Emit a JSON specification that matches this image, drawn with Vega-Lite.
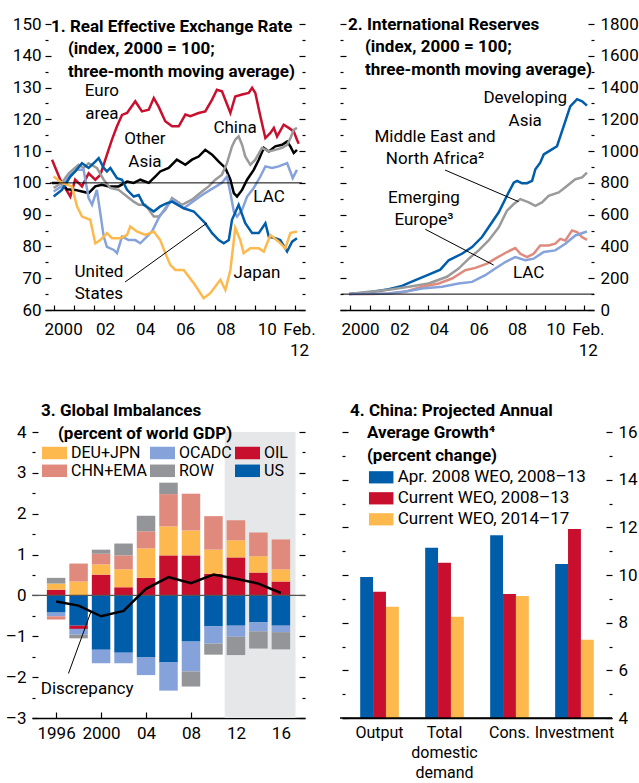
{
 "$schema": "https://vega.github.io/schema/vega-lite/v6.json",
 "padding": {"left": 5, "top": 15, "right": 5, "bottom": 5},
 "columns": 2,
 "bounds": "flush",
 "spacing": {"row": 122, "column": 35},
 "resolve": {"scale": {"color": "independent"}, "legend": {"color": "independent"}},
 "config": {
  "view": {"stroke": null},
  "font": "Roboto",
  "axis": {"labelFont": "Roboto", "labelFontSize": 17, "labelColor": "#000", "tickColor": "#000", "tickWidth": 1.2, "domainColor": "#000", "domainWidth": 1.3, "grid": false, "labelFlush": false, "labelOverlap": false, "zindex": 1},
  "title": {"font": "Roboto", "fontSize": 17, "fontWeight": "bold", "color": "#000", "anchor": "start", "frame": "group", "align": "left", "lineHeight": 22.5},
  "legend": {"labelFont": "Roboto", "labelFontSize": 17, "labelColor": "#000", "labelLimit": 0, "symbolStrokeWidth": 0, "symbolType": "M-1,-0.5H1V0.5H-1Z", "symbolSize": 625, "symbolOpacity": 1, "padding": 0, "labelOffset": 4},
  "text": {"font": "Roboto", "fontSize": 17, "color": "#000"}
 },
 "datasets": {
  "reer": [
   {"s":"Euro area","t":1999.92,"v":107.3},{"s":"Euro area","t":2000.33,"v":101},{"s":"Euro area","t":2000.83,"v":95.7},{"s":"Euro area","t":2001.07,"v":101},{"s":"Euro area","t":2001.41,"v":98.9},{"s":"Euro area","t":2001.74,"v":103},{"s":"Euro area","t":2002.07,"v":101},{"s":"Euro area","t":2002.32,"v":102.5},{"s":"Euro area","t":2002.57,"v":107.3},{"s":"Euro area","t":2002.9,"v":113.6},{"s":"Euro area","t":2003.15,"v":117.8},{"s":"Euro area","t":2003.4,"v":121.4},{"s":"Euro area","t":2003.65,"v":122},{"s":"Euro area","t":2004.06,"v":125.7},{"s":"Euro area","t":2004.39,"v":122.5},{"s":"Euro area","t":2004.73,"v":123},{"s":"Euro area","t":2004.98,"v":126.7},{"s":"Euro area","t":2005.22,"v":124},{"s":"Euro area","t":2005.55,"v":119.4},{"s":"Euro area","t":2005.89,"v":117.8},{"s":"Euro area","t":2006.22,"v":117.8},{"s":"Euro area","t":2006.55,"v":121.5},{"s":"Euro area","t":2006.8,"v":121},{"s":"Euro area","t":2007.21,"v":122},{"s":"Euro area","t":2007.54,"v":122.5},{"s":"Euro area","t":2007.88,"v":126.2},{"s":"Euro area","t":2008.12,"v":129.3},{"s":"Euro area","t":2008.37,"v":128.8},{"s":"Euro area","t":2008.79,"v":122},{"s":"Euro area","t":2009.03,"v":127.2},{"s":"Euro area","t":2009.37,"v":127.8},{"s":"Euro area","t":2009.7,"v":128.3},{"s":"Euro area","t":2009.87,"v":129.9},{"s":"Euro area","t":2010.03,"v":128.3},{"s":"Euro area","t":2010.28,"v":121},{"s":"Euro area","t":2010.53,"v":114.1},{"s":"Euro area","t":2010.78,"v":115.7},{"s":"Euro area","t":2010.95,"v":117.3},{"s":"Euro area","t":2011.11,"v":114.6},{"s":"Euro area","t":2011.44,"v":118.3},{"s":"Euro area","t":2011.69,"v":117.3},{"s":"Euro area","t":2011.94,"v":116.2},{"s":"Euro area","t":2012.1,"v":113.6},{"s":"Euro area","t":2012.19,"v":112.3},
   {"s":"Other Asia","t":1999.92,"v":100},{"s":"Other Asia","t":2000.41,"v":100},{"s":"Other Asia","t":2000.66,"v":98},{"s":"Other Asia","t":2001.07,"v":97.8},{"s":"Other Asia","t":2001.41,"v":97.3},{"s":"Other Asia","t":2001.74,"v":96.8},{"s":"Other Asia","t":2002.07,"v":98.9},{"s":"Other Asia","t":2002.4,"v":99.4},{"s":"Other Asia","t":2002.74,"v":98.9},{"s":"Other Asia","t":2003.23,"v":98.9},{"s":"Other Asia","t":2003.65,"v":100.4},{"s":"Other Asia","t":2003.98,"v":100},{"s":"Other Asia","t":2004.31,"v":101},{"s":"Other Asia","t":2004.73,"v":100},{"s":"Other Asia","t":2005.05,"v":102},{"s":"Other Asia","t":2005.3,"v":103.6},{"s":"Other Asia","t":2005.72,"v":104.7},{"s":"Other Asia","t":2006.13,"v":107.3},{"s":"Other Asia","t":2006.55,"v":105.7},{"s":"Other Asia","t":2006.88,"v":107.3},{"s":"Other Asia","t":2007.21,"v":108.3},{"s":"Other Asia","t":2007.54,"v":110.4},{"s":"Other Asia","t":2007.88,"v":108.9},{"s":"Other Asia","t":2008.21,"v":106.7},{"s":"Other Asia","t":2008.54,"v":104.7},{"s":"Other Asia","t":2008.79,"v":101},{"s":"Other Asia","t":2008.96,"v":96.8},{"s":"Other Asia","t":2009.12,"v":95.7},{"s":"Other Asia","t":2009.37,"v":97.8},{"s":"Other Asia","t":2009.62,"v":101},{"s":"Other Asia","t":2009.95,"v":104.1},{"s":"Other Asia","t":2010.2,"v":107.3},{"s":"Other Asia","t":2010.45,"v":111},{"s":"Other Asia","t":2010.7,"v":109.9},{"s":"Other Asia","t":2011.02,"v":111.5},{"s":"Other Asia","t":2011.36,"v":112},{"s":"Other Asia","t":2011.61,"v":113},{"s":"Other Asia","t":2011.77,"v":111.5},{"s":"Other Asia","t":2011.94,"v":109.4},{"s":"Other Asia","t":2012.1,"v":110.4},
   {"s":"China","t":2000.0,"v":98.4},{"s":"China","t":2000.4,"v":100},{"s":"China","t":2000.75,"v":103},{"s":"China","t":2001.24,"v":105.7},{"s":"China","t":2001.49,"v":104.7},{"s":"China","t":2001.74,"v":106.2},{"s":"China","t":2002.15,"v":104.7},{"s":"China","t":2002.49,"v":101},{"s":"China","t":2002.82,"v":98.4},{"s":"China","t":2003.23,"v":97.8},{"s":"China","t":2003.65,"v":95.7},{"s":"China","t":2003.98,"v":94.1},{"s":"China","t":2004.23,"v":93.1},{"s":"China","t":2004.56,"v":93.1},{"s":"China","t":2004.98,"v":89.4},{"s":"China","t":2005.22,"v":89.4},{"s":"China","t":2005.55,"v":91.5},{"s":"China","t":2005.89,"v":95.2},{"s":"China","t":2006.38,"v":93.1},{"s":"China","t":2006.88,"v":94.7},{"s":"China","t":2007.38,"v":97.3},{"s":"China","t":2007.71,"v":98.9},{"s":"China","t":2008.04,"v":101},{"s":"China","t":2008.37,"v":102.6},{"s":"China","t":2008.62,"v":106.2},{"s":"China","t":2008.87,"v":111.5},{"s":"China","t":2009.03,"v":113.6},{"s":"China","t":2009.2,"v":114.6},{"s":"China","t":2009.37,"v":112},{"s":"China","t":2009.53,"v":108.3},{"s":"China","t":2009.78,"v":105.7},{"s":"China","t":2010.03,"v":107.3},{"s":"China","t":2010.36,"v":111},{"s":"China","t":2010.7,"v":109.9},{"s":"China","t":2011.02,"v":110.4},{"s":"China","t":2011.36,"v":111},{"s":"China","t":2011.61,"v":112},{"s":"China","t":2011.77,"v":114},{"s":"China","t":2011.94,"v":116.7},{"s":"China","t":2012.1,"v":117.3},
   {"s":"LAC","t":2000.0,"v":97.3},{"s":"LAC","t":2000.41,"v":99},{"s":"LAC","t":2000.83,"v":102.6},{"s":"LAC","t":2001.16,"v":104.1},{"s":"LAC","t":2001.49,"v":104.1},{"s":"LAC","t":2001.74,"v":95.2},{"s":"LAC","t":2001.91,"v":93.1},{"s":"LAC","t":2002.15,"v":97.8},{"s":"LAC","t":2002.32,"v":90.5},{"s":"LAC","t":2002.49,"v":83.1},{"s":"LAC","t":2002.65,"v":79.9},{"s":"LAC","t":2002.99,"v":78.9},{"s":"LAC","t":2003.15,"v":77.9},{"s":"LAC","t":2003.4,"v":83.1},{"s":"LAC","t":2003.73,"v":82},{"s":"LAC","t":2004.06,"v":82},{"s":"LAC","t":2004.31,"v":81},{"s":"LAC","t":2004.89,"v":84.7},{"s":"LAC","t":2005.22,"v":88.9},{"s":"LAC","t":2005.55,"v":92},{"s":"LAC","t":2005.89,"v":94.7},{"s":"LAC","t":2006.47,"v":92},{"s":"LAC","t":2007.38,"v":96.2},{"s":"LAC","t":2007.79,"v":97.8},{"s":"LAC","t":2008.37,"v":100},{"s":"LAC","t":2008.62,"v":102},{"s":"LAC","t":2008.79,"v":96.8},{"s":"LAC","t":2008.96,"v":91},{"s":"LAC","t":2009.12,"v":89.4},{"s":"LAC","t":2009.37,"v":91.5},{"s":"LAC","t":2009.62,"v":95.7},{"s":"LAC","t":2009.95,"v":98.4},{"s":"LAC","t":2010.28,"v":102},{"s":"LAC","t":2010.53,"v":105.2},{"s":"LAC","t":2010.86,"v":104.7},{"s":"LAC","t":2011.19,"v":105.2},{"s":"LAC","t":2011.61,"v":106.2},{"s":"LAC","t":2011.77,"v":103.6},{"s":"LAC","t":2011.89,"v":101.5},{"s":"LAC","t":2012.1,"v":104.1},
   {"s":"United States","t":2000.0,"v":95.7},{"s":"United States","t":2000.41,"v":97.8},{"s":"United States","t":2000.83,"v":102},{"s":"United States","t":2001.07,"v":103.6},{"s":"United States","t":2001.41,"v":106.2},{"s":"United States","t":2001.74,"v":104.7},{"s":"United States","t":2002.07,"v":106.7},{"s":"United States","t":2002.24,"v":107.8},{"s":"United States","t":2002.49,"v":104.7},{"s":"United States","t":2002.65,"v":103.6},{"s":"United States","t":2002.82,"v":104.7},{"s":"United States","t":2003.15,"v":101.5},{"s":"United States","t":2003.4,"v":101},{"s":"United States","t":2003.65,"v":97.8},{"s":"United States","t":2003.98,"v":95.7},{"s":"United States","t":2004.23,"v":96.2},{"s":"United States","t":2004.48,"v":93.1},{"s":"United States","t":2004.98,"v":91},{"s":"United States","t":2005.3,"v":92.6},{"s":"United States","t":2005.64,"v":93.6},{"s":"United States","t":2005.89,"v":94.1},{"s":"United States","t":2006.47,"v":92},{"s":"United States","t":2006.97,"v":91},{"s":"United States","t":2007.54,"v":87.3},{"s":"United States","t":2007.88,"v":84.2},{"s":"United States","t":2008.21,"v":82},{"s":"United States","t":2008.46,"v":81},{"s":"United States","t":2008.71,"v":82},{"s":"United States","t":2008.87,"v":88.4},{"s":"United States","t":2009.2,"v":93.1},{"s":"United States","t":2009.53,"v":87.3},{"s":"United States","t":2009.87,"v":84.2},{"s":"United States","t":2010.2,"v":84.2},{"s":"United States","t":2010.53,"v":87.3},{"s":"United States","t":2010.7,"v":83.1},{"s":"United States","t":2011.02,"v":82.6},{"s":"United States","t":2011.27,"v":82},{"s":"United States","t":2011.61,"v":78.4},{"s":"United States","t":2011.86,"v":81.5},{"s":"United States","t":2012.1,"v":82.6},
   {"s":"Japan","t":2000.0,"v":102},{"s":"Japan","t":2000.41,"v":100},{"s":"Japan","t":2000.91,"v":98.9},{"s":"Japan","t":2001.16,"v":92.6},{"s":"Japan","t":2001.41,"v":89.4},{"s":"Japan","t":2001.82,"v":88.4},{"s":"Japan","t":2002.07,"v":81},{"s":"Japan","t":2002.32,"v":82},{"s":"Japan","t":2002.65,"v":84.2},{"s":"Japan","t":2002.9,"v":82.6},{"s":"Japan","t":2003.31,"v":82.6},{"s":"Japan","t":2003.65,"v":83.6},{"s":"Japan","t":2003.81,"v":86.3},{"s":"Japan","t":2004.14,"v":84.7},{"s":"Japan","t":2004.56,"v":83.6},{"s":"Japan","t":2004.98,"v":84.7},{"s":"Japan","t":2005.3,"v":82},{"s":"Japan","t":2005.55,"v":77.9},{"s":"Japan","t":2005.8,"v":74.2},{"s":"Japan","t":2006.05,"v":72.6},{"s":"Japan","t":2006.47,"v":72.6},{"s":"Japan","t":2006.97,"v":68.4},{"s":"Japan","t":2007.46,"v":63.7},{"s":"Japan","t":2007.79,"v":65.3},{"s":"Japan","t":2008.29,"v":69.5},{"s":"Japan","t":2008.54,"v":66.3},{"s":"Japan","t":2008.79,"v":72.6},{"s":"Japan","t":2009.03,"v":85.8},{"s":"Japan","t":2009.28,"v":82},{"s":"Japan","t":2009.45,"v":77.9},{"s":"Japan","t":2009.78,"v":79.4},{"s":"Japan","t":2010.2,"v":79.4},{"s":"Japan","t":2010.45,"v":78.4},{"s":"Japan","t":2010.78,"v":83.6},{"s":"Japan","t":2011.19,"v":81.5},{"s":"Japan","t":2011.52,"v":79.4},{"s":"Japan","t":2011.77,"v":84.2},{"s":"Japan","t":2012.1,"v":84.7}
  ],
  "ann1": [
   {"label":"Euro\narea","t":2002.4,"v":128.9},{"label":"Other\nAsia","t":2004.54,"v":113.8},{"label":"China","t":2009.02,"v":117.3},{"label":"LAC","t":2010.71,"v":95.6},{"label":"United\nStates","t":2002.25,"v":72.1},{"label":"Japan","t":2010.11,"v":71.6}
  ],
  "lead1": [{"t":2003.55,"v":68.8,"t2":2007.63,"v2":87.4}],
  "res": [
   {"s":"Developing Asia","t":1999.95,"v":100},{"s":"Developing Asia","t":2000.94,"v":110},{"s":"Developing Asia","t":2001.97,"v":131},{"s":"Developing Asia","t":2002.65,"v":152},{"s":"Developing Asia","t":2003.34,"v":188},{"s":"Developing Asia","t":2004.02,"v":223},{"s":"Developing Asia","t":2004.62,"v":254},{"s":"Developing Asia","t":2005.05,"v":313},{"s":"Developing Asia","t":2005.73,"v":354},{"s":"Developing Asia","t":2006.25,"v":396},{"s":"Developing Asia","t":2006.76,"v":459},{"s":"Developing Asia","t":2007.1,"v":521},{"s":"Developing Asia","t":2007.62,"v":615},{"s":"Developing Asia","t":2008.04,"v":719},{"s":"Developing Asia","t":2008.39,"v":802},{"s":"Developing Asia","t":2008.56,"v":813},{"s":"Developing Asia","t":2008.81,"v":798},{"s":"Developing Asia","t":2009.07,"v":798},{"s":"Developing Asia","t":2009.33,"v":813},{"s":"Developing Asia","t":2009.5,"v":886},{"s":"Developing Asia","t":2009.75,"v":927},{"s":"Developing Asia","t":2009.93,"v":979},{"s":"Developing Asia","t":2010.35,"v":1011},{"s":"Developing Asia","t":2010.61,"v":1031},{"s":"Developing Asia","t":2010.95,"v":1156},{"s":"Developing Asia","t":2011.29,"v":1281},{"s":"Developing Asia","t":2011.64,"v":1327},{"s":"Developing Asia","t":2011.9,"v":1313},{"s":"Developing Asia","t":2012.15,"v":1286},
   {"s":"Middle East and North Africa","t":1999.95,"v":100},{"s":"Middle East and North Africa","t":2000.94,"v":115},{"s":"Middle East and North Africa","t":2001.97,"v":127},{"s":"Middle East and North Africa","t":2003.0,"v":146},{"s":"Middle East and North Africa","t":2004.02,"v":167},{"s":"Middle East and North Africa","t":2004.96,"v":209},{"s":"Middle East and North Africa","t":2005.56,"v":261},{"s":"Middle East and North Africa","t":2006.08,"v":323},{"s":"Middle East and North Africa","t":2006.59,"v":375},{"s":"Middle East and North Africa","t":2007.1,"v":438},{"s":"Middle East and North Africa","t":2007.62,"v":521},{"s":"Middle East and North Africa","t":2008.04,"v":625},{"s":"Middle East and North Africa","t":2008.39,"v":667},{"s":"Middle East and North Africa","t":2008.73,"v":698},{"s":"Middle East and North Africa","t":2009.16,"v":677},{"s":"Middle East and North Africa","t":2009.5,"v":656},{"s":"Middle East and North Africa","t":2009.84,"v":677},{"s":"Middle East and North Africa","t":2010.18,"v":719},{"s":"Middle East and North Africa","t":2010.7,"v":740},{"s":"Middle East and North Africa","t":2011.12,"v":781},{"s":"Middle East and North Africa","t":2011.55,"v":823},{"s":"Middle East and North Africa","t":2011.9,"v":834},{"s":"Middle East and North Africa","t":2012.15,"v":865},
   {"s":"Emerging Europe","t":1999.95,"v":100},{"s":"Emerging Europe","t":2001.11,"v":100},{"s":"Emerging Europe","t":2001.97,"v":104},{"s":"Emerging Europe","t":2002.82,"v":115},{"s":"Emerging Europe","t":2003.68,"v":146},{"s":"Emerging Europe","t":2004.54,"v":167},{"s":"Emerging Europe","t":2005.22,"v":198},{"s":"Emerging Europe","t":2005.9,"v":250},{"s":"Emerging Europe","t":2006.42,"v":265},{"s":"Emerging Europe","t":2007.02,"v":292},{"s":"Emerging Europe","t":2007.44,"v":323},{"s":"Emerging Europe","t":2008.04,"v":365},{"s":"Emerging Europe","t":2008.47,"v":390},{"s":"Emerging Europe","t":2008.73,"v":354},{"s":"Emerging Europe","t":2009.07,"v":333},{"s":"Emerging Europe","t":2009.41,"v":354},{"s":"Emerging Europe","t":2009.75,"v":406},{"s":"Emerging Europe","t":2010.18,"v":406},{"s":"Emerging Europe","t":2010.52,"v":417},{"s":"Emerging Europe","t":2010.78,"v":448},{"s":"Emerging Europe","t":2011.04,"v":438},{"s":"Emerging Europe","t":2011.38,"v":500},{"s":"Emerging Europe","t":2011.64,"v":490},{"s":"Emerging Europe","t":2011.9,"v":458},{"s":"Emerging Europe","t":2012.15,"v":442},
   {"s":"LAC","t":1999.95,"v":100},{"s":"LAC","t":2001.97,"v":104},{"s":"LAC","t":2003.0,"v":119},{"s":"LAC","t":2003.68,"v":135},{"s":"LAC","t":2004.71,"v":146},{"s":"LAC","t":2005.56,"v":167},{"s":"LAC","t":2006.25,"v":177},{"s":"LAC","t":2006.93,"v":219},{"s":"LAC","t":2007.44,"v":261},{"s":"LAC","t":2007.96,"v":302},{"s":"LAC","t":2008.47,"v":333},{"s":"LAC","t":2008.98,"v":313},{"s":"LAC","t":2009.41,"v":323},{"s":"LAC","t":2009.93,"v":365},{"s":"LAC","t":2010.52,"v":375},{"s":"LAC","t":2011.04,"v":417},{"s":"LAC","t":2011.55,"v":469},{"s":"LAC","t":2012.15,"v":494}
  ],
  "ann2": [
   {"label":"Developing\nAsia","t":2008.98,"v":1334},{"label":"Middle East and\nNorth Africa²","t":2004.35,"v":1089},{"label":"Emerging\nEurope³","t":2003.78,"v":705},{"label":"LAC","t":2009.16,"v":233}
  ],
  "lead2": [{"t":2004.86,"v":881,"t2":2008.64,"v2":682},{"t":2003.85,"v":508,"t2":2007.36,"v2":283}],
  "imb": [
   {"yr":1996,"g":"OIL","v":0.14},{"yr":1996,"g":"DEU+JPN","v":0.15},{"yr":1996,"g":"ROW","v":0.14},{"yr":1996,"g":"US","v":-0.42},{"yr":1996,"g":"OCADC","v":-0.09},{"yr":1996,"g":"CHN+EMA","v":-0.08},
   {"yr":1998,"g":"DEU+JPN","v":0.34},{"yr":1998,"g":"CHN+EMA","v":0.44},{"yr":1998,"g":"US","v":-0.74},{"yr":1998,"g":"OIL","v":-0.08},{"yr":1998,"g":"OCADC","v":-0.14},{"yr":1998,"g":"ROW","v":-0.09},
   {"yr":2000,"g":"OIL","v":0.51},{"yr":2000,"g":"DEU+JPN","v":0.25},{"yr":2000,"g":"CHN+EMA","v":0.26},{"yr":2000,"g":"ROW","v":0.10},{"yr":2000,"g":"US","v":-1.33},{"yr":2000,"g":"OCADC","v":-0.33},
   {"yr":2002,"g":"OIL","v":0.20},{"yr":2002,"g":"DEU+JPN","v":0.44},{"yr":2002,"g":"CHN+EMA","v":0.34},{"yr":2002,"g":"ROW","v":0.29},{"yr":2002,"g":"US","v":-1.40},{"yr":2002,"g":"OCADC","v":-0.26},
   {"yr":2004,"g":"OIL","v":0.43},{"yr":2004,"g":"DEU+JPN","v":0.72},{"yr":2004,"g":"CHN+EMA","v":0.42},{"yr":2004,"g":"ROW","v":0.38},{"yr":2004,"g":"US","v":-1.52},{"yr":2004,"g":"OCADC","v":-0.43},
   {"yr":2006,"g":"OIL","v":0.98},{"yr":2006,"g":"DEU+JPN","v":0.71},{"yr":2006,"g":"CHN+EMA","v":0.79},{"yr":2006,"g":"ROW","v":0.28},{"yr":2006,"g":"US","v":-1.64},{"yr":2006,"g":"OCADC","v":-0.69},
   {"yr":2008,"g":"OIL","v":0.98},{"yr":2008,"g":"DEU+JPN","v":0.61},{"yr":2008,"g":"CHN+EMA","v":0.90},{"yr":2008,"g":"US","v":-1.13},{"yr":2008,"g":"OCADC","v":-0.73},{"yr":2008,"g":"ROW","v":-0.37},
   {"yr":2010,"g":"OIL","v":0.53},{"yr":2010,"g":"DEU+JPN","v":0.59},{"yr":2010,"g":"CHN+EMA","v":0.82},{"yr":2010,"g":"US","v":-0.76},{"yr":2010,"g":"OCADC","v":-0.42},{"yr":2010,"g":"ROW","v":-0.27},
   {"yr":2012,"g":"OIL","v":0.93},{"yr":2012,"g":"DEU+JPN","v":0.42},{"yr":2012,"g":"CHN+EMA","v":0.49},{"yr":2012,"g":"US","v":-0.74},{"yr":2012,"g":"OCADC","v":-0.27},{"yr":2012,"g":"ROW","v":-0.45},
   {"yr":2014,"g":"OIL","v":0.56},{"yr":2014,"g":"DEU+JPN","v":0.40},{"yr":2014,"g":"CHN+EMA","v":0.58},{"yr":2014,"g":"US","v":-0.66},{"yr":2014,"g":"OCADC","v":-0.22},{"yr":2014,"g":"ROW","v":-0.42},
   {"yr":2016,"g":"OIL","v":0.34},{"yr":2016,"g":"DEU+JPN","v":0.30},{"yr":2016,"g":"CHN+EMA","v":0.73},{"yr":2016,"g":"US","v":-0.74},{"yr":2016,"g":"OCADC","v":-0.16},{"yr":2016,"g":"ROW","v":-0.42}
  ],
  "grp": [{"g":"US","k":1},{"g":"OIL","k":2},{"g":"DEU+JPN","k":3},{"g":"OCADC","k":4},{"g":"CHN+EMA","k":5},{"g":"ROW","k":6}],
  "disc": [
   {"yr":1996,"v":-0.15},{"yr":1998,"v":-0.25},{"yr":2000,"v":-0.51},{"yr":2002,"v":-0.38},{"yr":2004,"v":0.16},{"yr":2006,"v":0.45},{"yr":2008,"v":0.30},{"yr":2010,"v":0.51},{"yr":2012,"v":0.41},{"yr":2014,"v":0.29},{"yr":2016,"v":0.06}
  ],
  "ann3": [{"label":"Discrepancy","yr":1998.76,"v":-2.29}],
  "lead3": [{"yr":1997.1,"v":-1.91,"yr2":1999.1,"v2":-0.40}],
  "china": [
   {"c":"Output","s":"Apr. 2008 WEO, 2008–13","v":9.92},{"c":"Output","s":"Current WEO, 2008–13","v":9.3},{"c":"Output","s":"Current WEO, 2014–17","v":8.67},
   {"c":"Total domestic demand","s":"Apr. 2008 WEO, 2008–13","v":11.14},{"c":"Total domestic demand","s":"Current WEO, 2008–13","v":10.51},{"c":"Total domestic demand","s":"Current WEO, 2014–17","v":8.25},
   {"c":"Cons.","s":"Apr. 2008 WEO, 2008–13","v":11.67},{"c":"Cons.","s":"Current WEO, 2008–13","v":9.2},{"c":"Cons.","s":"Current WEO, 2014–17","v":9.12},
   {"c":"Investment","s":"Apr. 2008 WEO, 2008–13","v":10.46},{"c":"Investment","s":"Current WEO, 2008–13","v":11.93},{"c":"Investment","s":"Current WEO, 2014–17","v":7.28}
  ]
 },
 "concat": [
  {
   "width": 273, "height": 286,
   "title": {"text": ["1. Real Effective Exchange Rate", "\u200b\u00a0\u00a0\u00a0\u00a0(index, 2000 = 100;", "\u200b\u00a0\u00a0\u00a0\u00a0three-month moving average)"], "dx": 19, "offset": -65.5},
   "resolve": {"axis": {"x": "independent", "y": "independent"}},
   "layer": [
    {
     "data": {"name": "reer"},
     "mark": {"type": "line", "strokeWidth": 2.5},
     "encoding": {
      "x": {"field": "t", "type": "quantitative", "scale": {"domain": [1999.57, 2012.5], "range": [13, 273], "nice": false, "zero": false},
            "axis": {"orient": "bottom", "title": null, "values": [2000,2001,2002,2003,2004,2005,2006,2007,2008,2009,2010,2011,2012], "tickSize": -5, "labels": false}},
      "y": {"field": "v", "type": "quantitative", "scale": {"domain": [60, 150], "nice": false, "zero": false},
            "axis": {"orient": "left", "offset": -13, "title": null, "values": [60,65,70,75,80,85,90,95,100,105,110,115,120,125,130,135,140,145,150], "domain": false, "tickSize": {"expr": "datum.value % 10 == 0 ? -6 : -3"}, "labelPadding": 10, "labelExpr": "datum.value % 10 == 0 ? toString(datum.value) : ''"}},
      "color": {"field": "s", "type": "nominal", "scale": {"domain": ["Euro area","Other Asia","China","LAC","United States","Japan"], "range": ["#C8102E","#000000","#9A9A9A","#86A2DA","#005DAA","#FDB94E"]}, "legend": null}
     }
    },
    {
     "data": {"values": [{}]},
     "mark": {"type": "rule", "color": "#000", "strokeWidth": 1},
     "encoding": {
      "x": {"datum": 1999.82, "type": "quantitative", "scale": {"domain": [1999.57, 2012.5], "range": [13, 273], "nice": false, "zero": false},
            "axis": {"orient": "bottom", "title": null, "values": [2000.47, 2002.55, 2004.55, 2006.55, 2008.55, 2010.6, 2012.2], "ticks": false, "domain": false, "labelPadding": 11.3, "labelBaseline": "top", "labelLineHeight": 21.5,
                     "labelExpr": "datum.value < 2001 ? '2000' : datum.value > 2012 ? ['Feb.', '12'] : slice(toString(floor(datum.value)), 2)"}},
      "x2": {"datum": 2012.35},
      "y": {"datum": 100, "type": "quantitative", "scale": {"domain": [60, 150], "nice": false, "zero": false},
            "axis": {"orient": "right", "title": null, "values": [60,65,70,75,80,85,90,95,100,105,110,115,120,125,130,135,140,145,150], "domain": false, "tickSize": {"expr": "datum.value % 10 == 0 ? -6 : -3"}, "labels": false}}
     }
    },
    {
     "data": {"name": "lead1"},
     "mark": {"type": "rule", "color": "#000", "strokeWidth": 1},
     "encoding": {
      "x": {"field": "t", "type": "quantitative", "scale": {"domain": [1999.57, 2012.5], "range": [13, 273], "nice": false, "zero": false}, "axis": null},
      "x2": {"field": "t2"},
      "y": {"field": "v", "type": "quantitative", "scale": {"domain": [60, 150], "nice": false, "zero": false}, "axis": null},
      "y2": {"field": "v2"}
     }
    },
    {
     "data": {"name": "ann1"},
     "mark": {"type": "text", "lineBreak": "\n", "lineHeight": 22.5, "align": "center", "baseline": "middle"},
     "encoding": {
      "x": {"field": "t", "type": "quantitative", "scale": {"domain": [1999.57, 2012.5], "range": [13, 273], "nice": false, "zero": false}, "axis": null},
      "y": {"field": "v", "type": "quantitative", "scale": {"domain": [60, 150], "nice": false, "zero": false}, "axis": null},
      "text": {"field": "label", "type": "nominal"}
     }
    }
   ]
  },
  {
   "width": 254, "height": 286,
   "title": {"text": ["2. International Reserves", "\u200b\u00a0\u00a0\u00a0\u00a0(index, 2000 = 100;", "\u200b\u00a0\u00a0\u00a0\u00a0three-month moving average)"], "dx": 8, "offset": -63.8},
   "resolve": {"axis": {"x": "independent", "y": "independent"}},
   "layer": [
    {
     "data": {"name": "res"},
     "mark": {"type": "line", "strokeWidth": 2.5},
     "encoding": {
      "x": {"field": "t", "type": "quantitative", "scale": {"domain": [1999.47, 2012.51], "nice": false, "zero": false},
            "axis": {"orient": "bottom", "title": null, "values": [2000,2001,2002,2003,2004,2005,2006,2007,2008,2009,2010,2011,2012], "tickSize": -5, "labels": false}},
      "y": {"field": "v", "type": "quantitative", "scale": {"domain": [0, 1800], "nice": false},
            "axis": {"orient": "left", "title": null, "values": [0,100,200,300,400,500,600,700,800,900,1000,1100,1200,1300,1400,1500,1600,1700,1800], "domain": false, "tickSize": {"expr": "datum.value % 200 == 0 ? -6 : -3"}, "labels": false}},
      "color": {"field": "s", "type": "nominal", "scale": {"domain": ["Developing Asia","Middle East and North Africa","Emerging Europe","LAC"], "range": ["#005DAA","#9A9A9A","#E08A7E","#86A2DA"]}, "legend": null}
     }
    },
    {
     "data": {"values": [{}]},
     "mark": {"type": "rule", "color": "#000", "strokeWidth": 1},
     "encoding": {
      "x": {"datum": 1999.55, "type": "quantitative", "scale": {"domain": [1999.47, 2012.51], "nice": false, "zero": false},
            "axis": {"orient": "bottom", "title": null, "values": [2000.5, 2002.52, 2004.54, 2006.59, 2008.56, 2010.52, 2012.19], "ticks": false, "domain": false, "labelPadding": 11.3, "labelBaseline": "top", "labelLineHeight": 21.5,
                     "labelExpr": "datum.value < 2001 ? '2000' : datum.value > 2012 ? ['Feb.', '12'] : slice(toString(floor(datum.value)), 2)"}},
      "x2": {"datum": 2012.51},
      "y": {"datum": 100, "type": "quantitative", "scale": {"domain": [0, 1800], "nice": false},
            "axis": {"orient": "right", "title": null, "values": [0,100,200,300,400,500,600,700,800,900,1000,1100,1200,1300,1400,1500,1600,1700,1800], "domain": false, "tickSize": {"expr": "datum.value % 200 == 0 ? -6 : -3"}, "labelPadding": 12, "labelExpr": "datum.value % 200 == 0 ? toString(datum.value) : ''"}}
     }
    },
    {
     "data": {"name": "lead2"},
     "mark": {"type": "rule", "color": "#000", "strokeWidth": 1},
     "encoding": {
      "x": {"field": "t", "type": "quantitative", "scale": {"domain": [1999.47, 2012.51], "nice": false, "zero": false}, "axis": null},
      "x2": {"field": "t2"},
      "y": {"field": "v", "type": "quantitative", "scale": {"domain": [0, 1800], "nice": false}, "axis": null},
      "y2": {"field": "v2"}
     }
    },
    {
     "data": {"name": "ann2"},
     "mark": {"type": "text", "lineBreak": "\n", "lineHeight": 22.5, "align": "center", "baseline": "middle"},
     "encoding": {
      "x": {"field": "t", "type": "quantitative", "scale": {"domain": [1999.47, 2012.51], "nice": false, "zero": false}, "axis": null},
      "y": {"field": "v", "type": "quantitative", "scale": {"domain": [0, 1800], "nice": false}, "axis": null},
      "text": {"field": "label", "type": "nominal"}
     }
    }
   ]
  },
  {
   "width": 273, "height": 286,
   "title": {"text": ["3. Global Imbalances", "\u200b\u00a0\u00a0\u00a0\u00a0(percent of world GDP)"], "dx": 9, "offset": -19.5},
   "resolve": {"axis": {"y": "independent"}},
   "layer": [
    {
     "data": {"values": [{}]},
     "mark": {"type": "rect", "color": "#E6E7E8"},
     "encoding": {
      "x": {"datum": 2011, "type": "quantitative", "scale": {"domain": [1994.3, 2017.7], "nice": false, "zero": false}},
      "x2": {"datum": 2017.3}
     }
    },
    {
     "data": {"name": "imb"},
     "transform": [{"lookup": "g", "from": {"data": {"name": "grp"}, "key": "g", "fields": ["k"]}}],
     "mark": {"type": "bar", "width": 18.5},
     "encoding": {
      "x": {"field": "yr", "type": "quantitative", "scale": {"domain": [1994.3, 2017.7], "nice": false, "zero": false},
            "axis": {"title": null, "values": [1996,1998,2000,2002,2004,2006,2008,2010,2012,2014,2016], "tickSize": -6, "labelPadding": 13.8, "labelBaseline": "top",
                     "labelExpr": "datum.value == 1996 || datum.value == 2000 ? toString(datum.value) : datum.value % 4 == 0 ? slice(toString(datum.value), 2) : ''"}},
      "y": {"field": "v", "type": "quantitative", "stack": "zero", "scale": {"domain": [-3, 4], "nice": false, "zero": false},
            "axis": {"orient": "left", "title": null, "values": [-3,-2.5,-2,-1.5,-1,-0.5,0,0.5,1,1.5,2,2.5,3,3.5,4], "domain": false, "tickSize": {"expr": "datum.value % 1 == 0 ? -6 : -3"}, "labelPadding": 12,
                     "labelExpr": "datum.value % 1 != 0 ? '' : datum.value < 0 ? '–' + toString(-datum.value) : toString(datum.value)"}},
      "color": {"field": "g", "type": "nominal", "scale": {"domain": ["DEU+JPN","CHN+EMA","OCADC","ROW","OIL","US"], "range": ["#FDB94E","#E08A7E","#86A2DA","#939598","#C8102E","#005DAA"]},
                "legend": {"title": null, "orient": "none", "legendX": 10, "legendY": 8.5, "columns": 3, "gridAlign": "none", "rowPadding": -3.2, "columnPadding": 3, "labelFontSize": 16}},
      "order": {"field": "k", "type": "quantitative"}
     }
    },
    {
     "data": {"values": [{}]},
     "mark": {"type": "rule", "color": "#555555", "strokeWidth": 1.2},
     "encoding": {
      "y": {"datum": 0, "type": "quantitative", "scale": {"domain": [-3, 4], "nice": false, "zero": false},
            "axis": {"orient": "right", "title": null, "values": [-3,-2.5,-2,-1.5,-1,-0.5,0,0.5,1,1.5,2,2.5,3,3.5,4], "domain": false, "tickSize": {"expr": "datum.value % 1 == 0 ? -6 : -3"}, "labels": false}}
     }
    },
    {
     "data": {"name": "disc"},
     "mark": {"type": "line", "color": "#000", "strokeWidth": 2.5},
     "encoding": {
      "x": {"field": "yr", "type": "quantitative", "scale": {"domain": [1994.3, 2017.7], "nice": false, "zero": false}},
      "y": {"field": "v", "type": "quantitative", "scale": {"domain": [-3, 4], "nice": false, "zero": false}, "axis": null}
     }
    },
    {
     "data": {"name": "lead3"},
     "mark": {"type": "rule", "color": "#000", "strokeWidth": 1},
     "encoding": {
      "x": {"field": "yr", "type": "quantitative", "scale": {"domain": [1994.3, 2017.7], "nice": false, "zero": false}},
      "x2": {"field": "yr2"},
      "y": {"field": "v", "type": "quantitative", "scale": {"domain": [-3, 4], "nice": false, "zero": false}, "axis": null},
      "y2": {"field": "v2"}
     }
    },
    {
     "data": {"name": "ann3"},
     "mark": {"type": "text", "align": "center", "baseline": "middle"},
     "encoding": {
      "x": {"field": "yr", "type": "quantitative", "scale": {"domain": [1994.3, 2017.7], "nice": false, "zero": false}},
      "y": {"field": "v", "type": "quantitative", "scale": {"domain": [-3, 4], "nice": false, "zero": false}, "axis": null},
      "text": {"field": "label", "type": "nominal"}
     }
    }
   ]
  },
  {
   "width": 272, "height": 286,
   "title": {"text": ["4. China: Projected Annual", "\u200b\u00a0\u00a0\u00a0\u00a0Average Growth⁴", "\u200b\u00a0\u00a0\u00a0\u00a0(percent change)"], "dx": 10, "offset": -41.8},
   "resolve": {"axis": {"y": "independent"}},
   "layer": [
    {
     "data": {"name": "china"},
     "mark": {"type": "bar"},
     "encoding": {
      "x": {"field": "c", "type": "nominal", "sort": null, "scale": {"range": [2, 272], "paddingInner": 0.405, "paddingOuter": 0.28},
            "axis": {"title": null, "ticks": false, "labelAngle": 0, "labelFontSize": 16, "labelPadding": 6.1, "labelBaseline": "top", "labelLineHeight": 20,
                     "labelExpr": "datum.value == 'Total domestic demand' ? ['Total', 'domestic', 'demand'] : datum.value"}},
      "xOffset": {"field": "s", "type": "nominal", "sort": null, "scale": {"paddingInner": 0, "paddingOuter": 0}},
      "y": {"field": "v", "type": "quantitative", "scale": {"domain": [4, 16], "nice": false, "zero": false},
            "axis": {"orient": "left", "offset": -2, "title": null, "values": [4,5,6,7,8,9,10,11,12,13,14,15,16], "domain": false, "tickSize": {"expr": "datum.value % 2 == 0 ? -6 : -3"}, "labels": false}},
      "y2": {"datum": 4},
      "color": {"field": "s", "type": "nominal", "scale": {"domain": ["Apr. 2008 WEO, 2008–13","Current WEO, 2008–13","Current WEO, 2014–17"], "range": ["#005DAA","#C8102E","#FDB94E"]},
                "legend": {"title": null, "orient": "none", "legendX": 28.7, "legendY": 32.8, "rowPadding": -1.7, "symbolSize": 600}}
     }
    },
    {
     "data": {"values": [{}]},
     "mark": {"type": "rule", "color": "#000", "strokeWidth": 1.3},
     "encoding": {
      "y": {"datum": 4, "type": "quantitative", "scale": {"domain": [4, 16], "nice": false, "zero": false},
            "axis": {"orient": "right", "title": null, "values": [4,5,6,7,8,9,10,11,12,13,14,15,16], "domain": false, "tickSize": {"expr": "datum.value % 2 == 0 ? -6 : -3"}, "labelPadding": 12, "labelExpr": "datum.value % 2 == 0 ? toString(datum.value) : ''"}}
     }
    }
   ]
  }
 ]
}
